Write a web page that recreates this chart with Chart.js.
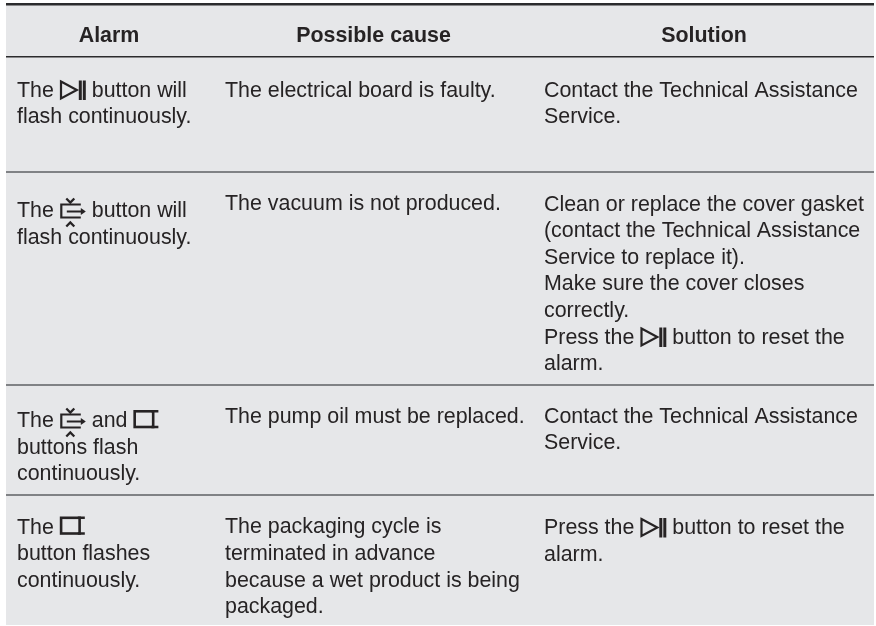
<!DOCTYPE html>
<html>
<head>
<meta charset="utf-8">
<style>
    body { margin: 0; background: #fff; }
    canvas { display: block; }
</style>
<script src="https://cdn.jsdelivr.net/npm/chart.js@4"></script>
</head>
<body>
<canvas id="alarm-table" width="876" height="626"></canvas>
<script>
// Table text, {play} {vac} {seal} stand for the button symbols
const headers = ["Alarm", "Possible cause", "Solution"];
const alarmCells = [
    ["The {play} button will", "flash continuously."],
    ["The {vac} button will", "flash continuously."],
    ["The {vac} and {seal}", "buttons flash", "continuously."],
    ["The {seal}", "button flashes", "continuously."]
];
const causeCells = [
    ["The electrical board is faulty."],
    ["The vacuum is not produced."],
    ["The pump oil must be replaced."],
    ["The packaging cycle is", "terminated in advance", "because a wet product is being", "packaged."]
];
const solutionCells = [
    ["Contact the Technical Assistance", "Service."],
    ["Clean or replace the cover gasket", "(contact the Technical Assistance", "Service to replace it).", "Make sure the cover closes", "correctly.", "Press the {play} button to reset the", "alarm."],
    ["Contact the Technical Assistance", "Service."],
    ["Press the {play} button to reset the", "alarm."]
];

// Axis positions of the table (both scales run in page pixels)
const ruleLines = [4.5, 57, 171.5, 384.5, 495];
const headerBaseline = 41.7;
const headerCentres = [109, 373.5, 704];
const columnStarts = [17, 225, 544];
const firstBaselines = [
    [96.5, 217, 427, 533.5],
    [96.5, 210, 423.3, 533.3],
    [96.5, 210.5, 422.5, 534]
];
const lineGap = 26.6;

const TEXT_COLOR = "#262324";
const FONT_SIZE = 21.4;

function cellPoints(cells, column) {
    const points = [];
    cells.forEach((lines, row) => {
        lines.forEach((text, i) => {
            points.push({ x: columnStarts[column], y: firstBaselines[column][row] + i * lineGap, text: text });
        });
    });
    return points;
}

function drawPlay(ctx, x, y) {
    ctx.lineWidth = 2.2;
    ctx.beginPath();
    ctx.moveTo(x + 1.2, y - 15);
    ctx.lineTo(x + 17, y - 6.5);
    ctx.lineTo(x + 1.2, y + 2);
    ctx.closePath();
    ctx.stroke();
    ctx.fillRect(x + 19, y - 16, 3, 19.5);
    ctx.fillRect(x + 23, y - 16, 3, 19.5);
}

function drawVac(ctx, x, y) {
    ctx.lineWidth = 2.2;
    ctx.beginPath();
    ctx.moveTo(x + 21, y - 12.5);
    ctx.lineTo(x + 1.5, y - 12.5);
    ctx.lineTo(x + 1.5, y + 0.5);
    ctx.lineTo(x + 21, y + 0.5);
    ctx.moveTo(x + 7, y - 5.5);
    ctx.lineTo(x + 23, y - 5.5);
    ctx.stroke();
    ctx.beginPath();
    ctx.moveTo(x + 26, y - 5.5);
    ctx.lineTo(x + 21, y - 9);
    ctx.lineTo(x + 21, y - 2);
    ctx.closePath();
    ctx.fill();
    ctx.lineWidth = 2.3;
    ctx.beginPath();
    ctx.moveTo(x + 6.5, y - 18.5);
    ctx.lineTo(x + 10.5, y - 14.5);
    ctx.lineTo(x + 14.5, y - 18.5);
    ctx.moveTo(x + 6.5, y + 9.5);
    ctx.lineTo(x + 10.5, y + 5.5);
    ctx.lineTo(x + 14.5, y + 9.5);
    ctx.stroke();
}

function drawSeal(ctx, x, y) {
    ctx.lineWidth = 2.6;
    ctx.strokeRect(x + 1.3, y - 15.7, 18.5, 15.7);
    ctx.beginPath();
    ctx.moveTo(x + 18, y - 15.7);
    ctx.lineTo(x + 25, y - 15.7);
    ctx.moveTo(x + 18, y);
    ctx.lineTo(x + 25, y);
    ctx.stroke();
}

const symbols = {
    play: { draw: drawPlay, width: 26 },
    vac: { draw: drawVac, width: 26 },
    seal: { draw: drawSeal, width: 25 }
};

// Writes one line of text at a point, symbols are drawn inline
function drawLine(ctx, text, x, y) {
    text.split(/(\{\w+\})/).forEach(part => {
        const match = part.match(/^\{(\w+)\}$/);
        if (match) {
            const symbol = symbols[match[1]];
            symbol.draw(ctx, x, y);
            x += symbol.width;
        } else {
            ctx.fillText(part, x, y);
            x += ctx.measureText(part).width;
        }
    });
}

const tableText = {
    id: "tableText",
    afterDatasetsDraw(chart) {
        const ctx = chart.ctx;
        ctx.save();
        ctx.fillStyle = TEXT_COLOR;
        ctx.strokeStyle = TEXT_COLOR;
        ctx.textBaseline = "alphabetic";
        chart.data.datasets.forEach((dataset, d) => {
            const meta = chart.getDatasetMeta(d);
            ctx.font = (dataset.bold ? "bold " : "") + FONT_SIZE + 'px "Liberation Sans", Arial, sans-serif';
            ctx.textAlign = dataset.bold ? "center" : "left";
            meta.data.forEach((point, i) => {
                drawLine(ctx, dataset.data[i].text, point.x, point.y);
            });
        });
        ctx.restore();
    }
};

const sheetBackground = {
    id: "sheetBackground",
    beforeDraw(chart) {
        const area = chart.chartArea;
        chart.ctx.fillStyle = "#e6e7e9";
        chart.ctx.fillRect(area.left, area.top, area.width, area.height);
    }
};

new Chart(document.getElementById("alarm-table"), {
    type: "scatter",
    data: {
        datasets: [
            {
                label: "Header",
                bold: true,
                data: headers.map((text, i) => ({ x: headerCentres[i], y: headerBaseline, text: text }))
            },
            { label: "Alarm", data: cellPoints(alarmCells, 0) },
            { label: "Possible cause", data: cellPoints(causeCells, 1) },
            { label: "Solution", data: cellPoints(solutionCells, 2) }
        ]
    },
    options: {
        responsive: false,
        animation: false,
        layout: { padding: { left: 6, right: 2, top: 3, bottom: 1 } },
        elements: { point: { radius: 0, hoverRadius: 0 } },
        plugins: { legend: { display: false }, tooltip: { enabled: false } },
        scales: {
            x: { type: "linear", display: false, min: 6, max: 874 },
            y: {
                type: "linear",
                reverse: true,
                min: 3,
                max: 625,
                border: { display: false },
                ticks: { display: false },
                afterBuildTicks: scale => {
                    scale.ticks = ruleLines.map(value => ({ value: value }));
                },
                grid: {
                    drawTicks: false,
                    color: ctx => (ctx.index < 2 ? "#2b2b2d" : "#808285"),
                    lineWidth: ctx => (ctx.index === 0 ? 2.5 : ctx.index === 1 ? 1.5 : 2)
                }
            }
        }
    },
    plugins: [sheetBackground, tableText]
});
</script>
</body>
</html>
